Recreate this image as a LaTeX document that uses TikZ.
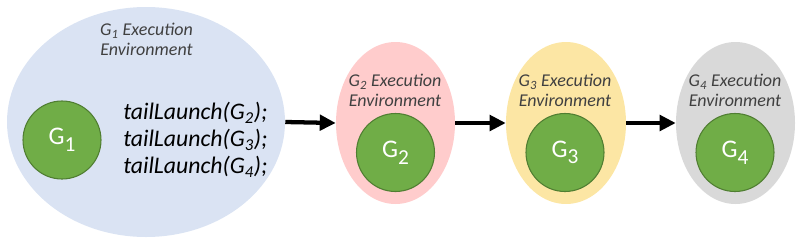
\documentclass[tikz,border=0pt]{standalone}
\usepackage{fontspec}
\setmainfont{Carlito}
\usetikzlibrary{shapes.geometric,arrows.meta}
\definecolor{envblue}{HTML}{DAE3F3}
\definecolor{envpink}{HTML}{FFCCCC}
\definecolor{envyellow}{HTML}{FCE6A4}
\definecolor{envgray}{HTML}{D9D9D9}
\definecolor{ggreen}{HTML}{70AD47}
\definecolor{gborder}{HTML}{507E32}
\definecolor{labelgray}{HTML}{404040}
\newcommand{\gsub}[1]{\raisebox{-5pt}{\fontsize{16}{16}\selectfont #1}}
\begin{document}
\begin{tikzpicture}[x=0.75pt,y=-0.75pt,
  env/.style={ellipse,inner sep=0pt,draw=none},
  gnode/.style={circle,fill=ggreen,draw=gborder,line width=0.8pt,inner sep=0pt,
    minimum size=58.5pt,text=white,font=\fontsize{19}{20}\selectfont},
  envlabel/.style={text=labelgray,font=\fontsize{13.5}{15}\selectfont\itshape,align=center,inner sep=0pt},
  flow/.style={line width=3.2pt,-{Triangle[length=12pt,width=11.5pt]}}]
\useasboundingbox (0,0) rectangle (806,247);
\node[env,fill=envblue,minimum width=278*0.75pt,minimum height=230*0.75pt] (e1) at (146,122) {};
\node[env,fill=envpink,minimum width=119*0.75pt,minimum height=162*0.75pt] (e2) at (395.5,123) {};
\node[env,fill=envyellow,minimum width=120*0.75pt,minimum height=162*0.75pt] (e3) at (566,123) {};
\node[env,fill=envgray,minimum width=119*0.75pt,minimum height=162*0.75pt] (e4) at (735.5,123) {};
\node[gnode] (g1) at (62,140) {G\gsub{1}};
\node[gnode] (g2) at (395.5,152.5) {G\gsub{2}};
\node[gnode] (g3) at (565,152.5) {G\gsub{3}};
\node[gnode] (g4) at (735,152.5) {G\gsub{4}};
\node[envlabel] (l1) at (146.5,39) {G\textsubscript{1} Execution\\Environment};
\node[envlabel] (l2) at (395,90) {G\textsubscript{2} Execution\\Environment};
\node[envlabel] (l3) at (565,90) {G\textsubscript{3} Execution\\Environment};
\node[envlabel] (l4) at (735,90) {G\textsubscript{4} Execution\\Environment};
\node[anchor=west,align=left,inner sep=0pt,font=\fontsize{17.8}{20.25}\selectfont\itshape] (code) at (123,140)
  {tailLaunch(G\textsubscript{2});\\tailLaunch(G\textsubscript{3});\\tailLaunch(G\textsubscript{4});};
\draw[flow] (e1.east) -- (e2.west);
\draw[flow] (e2.east) -- (e3.west);
\draw[flow] (e3.east) -- (e4.west);
\end{tikzpicture}
\end{document}
